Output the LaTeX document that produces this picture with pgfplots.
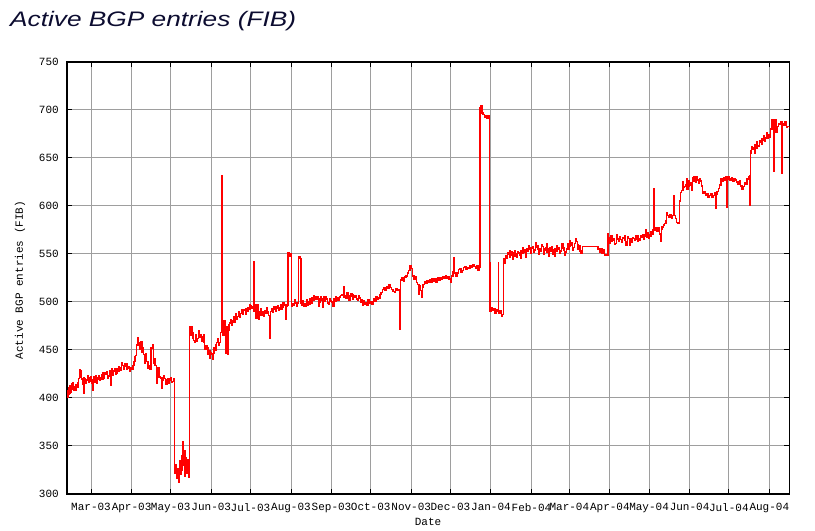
\documentclass[border=0pt]{standalone}
\usepackage{fontspec}
\setmainfont{Liberation Sans}
\setsansfont{Liberation Sans}
\setmonofont{Liberation Mono}
\usepackage{graphicx}
\usepackage{pgfplots}
\pgfplotsset{compat=1.18}
\definecolor{titlecol}{RGB}{12,12,48}
\definecolor{gridgray}{RGB}{158,158,158}
\definecolor{linered}{RGB}{255,0,0}
\begin{document}
\begin{tikzpicture}[x=1bp,y=1bp]
\path[use as bounding box] (0,0) rectangle (815,531);
\begin{axis}[
  at={(67bp,37bp)}, anchor=south west,
  scale only axis, width=722.3bp, height=432bp,
  xmin=-18.4, xmax=534.3, ymin=300, ymax=750,
  ytick={300,350,...,750},
  xtick={0,31,61,92,122,153,184,214,245,275,306,337,366,397,427,458,488,519},
  xticklabels={Mar-03,Apr-03,May-03,Jun-03,Jul-03,Aug-03,Sep-03,Oct-03,Nov-03,Dec-03,Jan-04,Feb-04,Mar-04,Apr-04,May-04,Jun-04,Jul-04,Aug-04},
  grid=major,
  major grid style={gridgray, line width=1bp},
  axis line style={black, line width=1.2bp},
  tick align=inside, major tick length=5bp,
  tick style={black, line width=1bp},
  ticklabel style={font=\ttfamily\fontsize{11bp}{13bp}\selectfont},
  /pgf/number format/assume math mode=true,
  yticklabel style={anchor=east, inner sep=0pt, xshift=-8bp},
  xticklabel style={anchor=north, inner sep=0pt, yshift=-9bp},
]
\addplot[const plot, linered, line width=1.4bp] table {
-18.4 403
-18 408
-17.7 401
-17.5 404
-17 411
-16.5 405
-16 413
-15.5 406
-15 415
-14.5 409
-14 416
-13.5 408
-13 412
-12 414
-11.5 408
-11 411
-10 416
-9.5 420
-9 429
-8.5 422
-8 428
-7.5 420
-7 419
-6.5 414
-6 421
-5.5 405
-5 420
-4.5 415
-4 419
-3 418
-2.5 423
-2 421
-1.5 416
-1 417
-0.5 422
0 420
0.5 415
1 408
1.5 419
2 422
2.5 416
3 418
3.5 423
4 421
4.5 415
5 419
6 423
6.5 418
7 421
8 424
8.5 419
9 426
10 420
10.5 426
11 425
12 427
12.5 421
13 423
14 428
15 413
15.5 427
16 430
16.5 424
17 428
18 431
18.5 425
19 426
20 431
21 433
21.5 428
22 429
23 432
23.5 437
24 434
25 430
25.5 436
26 433
27 436
27.5 430
28 431
29 433
29.5 428
30 432
31 430
32 434
33 438
33.5 443
34 444
35 455
36 463
36.5 455
37 451
37.5 458
38 459
39 448
39.5 452
40 445
41 436
41.5 446
42 438
43 431
43.5 438
44 434
45 430
46 452
47 455
48 436
48.5 441
49 434
50 428
50.5 415
51 432
52 422
53 421
54 410
54.5 421
55 418
55.5 423
56 420
57 419
57.5 414
58 417
59 420
59.5 415
60 418
61 421
61.5 416
62 417
63 420
63.7 329
64 322
65 330
65.5 316
66 326
67 312
67.5 335
68 320
69 340
69.5 325
70 354
70.5 330
71 345
72 318
72.5 338
73 322
74 336
74.5 317
75 328
75.2 474
76 470
76.5 465
77 474
77.5 462
78 468
78.5 460
79 458
80 466
80.5 459
81 462
82 468
82.5 470
83 463
84 466
84.5 459
85 464
86 466
86.5 458
87 451
88 454
89 446
89.5 452
90 449
91 441
91.5 447
92 446
93 440
93.5 447
94 452
95 456
95.5 450
96 458
97 462
97.5 455
98 458
99 468
99.8 632
100.2 480
101 465
102 481
103 447
103.5 474
104.5 445
105 476
105.5 470
106 478
107 482
107.5 476
108 480
109 485
109.5 479
110 484
111 488
111.5 482
112 485
113 490
113.5 484
114 488
115 492
116 487
116.5 492
117 491
118 493
118.5 487
119 490
120 494
121 492
121.5 497
122 496
123 493
124 495
124.3 542
124.8 490
125.5 497
126 483
127 497
128 482
128.5 490
129 488
129.5 493
130 486
131 490
132 485
132.5 491
133 491
134 488
134.5 494
135 490
136 486
137 462
137.5 490
138 493
139 489
139.5 495
140 492
141 495
141.5 490
142 493
143 496
143.5 491
144 494
145 497
145.5 492
146 494
147 499
148 497
149 482
149.5 496
150 497
150.8 551
152 548
153 550
153.6 496
154 498
155 497
155.5 502
156 499
157 496
158 499
158.8 547
160 545
160.5 499
161 497
162 501
162.5 496
163 498
164 495
165 502
165.5 497
166 500
167 503
167.5 498
168 499
169 504
170 502
170.5 507
171 505
172 503
173 506
174 496
174.5 503
175 500
175.5 505
176 502
177 494
177.5 503
178 505
179 501
179.5 506
180 503
181 499
182 498
182.5 503
183 501
184 500
185 495
186 503
187 501
187.5 506
188 504
189 502
190 505
191 507
192 508
193 516
193.5 505
194 507
195 504
196 510
197 507
197.5 502
198 506
199 509
200 508
200.5 503
201 505
202 507
203 503
204 502
204.5 507
205 504
206 500
207 502
207.5 497
208 501
209 498
210 499
211 497
212 502
213 499
214 500
215 498
216 503
217 501
218 505
219 503
220 504
221 508
222 510
223 513
224 515
225 512
226 516
227 514
228 518
229 515
230 513
231 511
232 510
233 514
234 512
235 513
236 510
236.4 472
236.8 523
238 525
239 522
240 526
241 527
242 530
243 533
244 538
245 535
246 527
247 524
248 526
249 520
250 518
251 508
251.5 517
252 512
253 505
253.5 515
254 518
255 521
256 519
257 522
258 520
259 523
260 521
261 524
262 522
263 524
264 521
265 525
266 523
267 525
268 524
269 526
270 525
271 527
272 525
273 526
274 524
275 521
276 527
277 532
277.6 546
278.2 530
279 527
280 530
281 534
282 535
283 531
284 533
285 536
286 537
287 534
288 536
289 535
290 538
291 536
292 539
293 537
294 535
295 538
296 533
297 536
297.6 702
298.5 704
299 697
300 695
301 692
302 694
303 691
304 694
304.8 541
305.4 490
306 494
307 491
308 493
309 488
310 492
311 490
311.6 541
312 488
313 491
314 485
315 487
315.5 543
316 545
316.5 540
317 548
318 546
318.5 551
319 550
320 547
320.5 553
321 552
322 549
322.5 544
323 551
324 548
324.5 553
325 550
326 547
326.5 552
327 551
328 549
328.5 545
329 553
330 551
330.5 557
331 554
332 552
332.5 547
333 556
334 553
334.5 559
335 555
336 557
336.5 551
337 556
338 558
338.5 552
339 554
340 557
340.5 562
341 559
342 555
342.5 550
343 556
344 553
344.5 560
345 558
346 556
346.5 550
347 554
348 557
348.5 561
349 552
350 555
350.5 548
351 557
352 553
352.5 558
353 550
354 554
354.5 548
355 556
356 553
356.5 559
357 555
358 557
358.5 551
359 553
360 556
360.5 561
361 557
362 554
362.5 549
363 552
364 556
364.5 561
365 555
366 558
366.5 564
367 562
368 559
368.5 554
369 557
370 561
370.5 566
371 563
372 560
372.5 555
373 559
374 553
375 551
376 558
387 558
388 555
389 552
390 556
391 551
392 554
393 549
395.5 571
396 567
396.5 561
397 566
398 569
398.5 563
399 564
400 566
400.5 560
401 561
402 565
402.5 570
403 566
404 563
404.5 568
405 565
406 562
406.5 567
407 566
408 564
408.5 569
409 559
410 563
410.5 568
411 566
412 564
412.5 559
413 566
414 562
414.5 567
415 566
416 564
416.5 569
417 565
418 569
418.5 563
419 566
420 564
420.5 569
421 567
422 570
422.5 565
423 568
424 570
424.5 575
425 567
426 572
426.5 566
427 570
428 573
428.5 568
429 571
430 575
430.8 618
431.3 575
432 577
433 574
434 577
435 571
436 563
436.5 576
437 578
438 580
439 582
440 585
440.5 593
441 590
442 588
443 591
444 587
445 590
445.6 611
446 590
447 587
448 583
449 582
450.3 605
451 614
452 616
453 625
453.5 619
454 620
455 622
455.5 628
456 617
457 621
457.5 626
458 624
459 622
459.5 616
460 629
461 626
461.5 631
462 628
463 625
463.5 630
464 627
465 624
465.5 628
466 626
467 621
468 613
469 615
470 611
471 613
472 609
473 611
474 613
475 609
476 611
477 614
477.8 598
478.2 612
479 615
480 618
481 622
482 628
483 626
484 629
485 627
486 630
486.4 599
486.8 630
488 628
489 627
490 629
491 626
492 628
493 627
494 625
495 623
496 626
497 621
498 617
499 620
500 624
501 623
502 628
503 630
503.7 632
504.1 601
504.6 658
505 655
505.5 662
506 659
507 661
507.5 655
508 664
509 667
509.5 660
510 663
511 662
511.5 668
512 666
513 670
513.5 664
514 668
515 673
515.5 667
516 671
517 676
517.5 670
518 674
519 672
520 680
521 690
522 688
522.6 636
523.1 690
524 677
525 683
526 686
527 685
528 688
528.7 634
529.2 686
530 684
531 688
532 682
533 683
534.3 680
};
\end{axis}
\node[anchor=base west, inner sep=0pt, text=titlecol, font=\sffamily\itshape\fontsize{21bp}{25bp}\selectfont] at (10,504) {\scalebox{1.25}[1]{Active BGP entries (FIB)}};
\node[rotate=90, inner sep=0pt, font=\ttfamily\fontsize{11bp}{13bp}\selectfont] at (20,251) {Active BGP entries (FIB)};
\node[inner sep=0pt, font=\ttfamily\fontsize{11bp}{13bp}\selectfont] at (428,9) {Date};
\end{tikzpicture}
\end{document}
